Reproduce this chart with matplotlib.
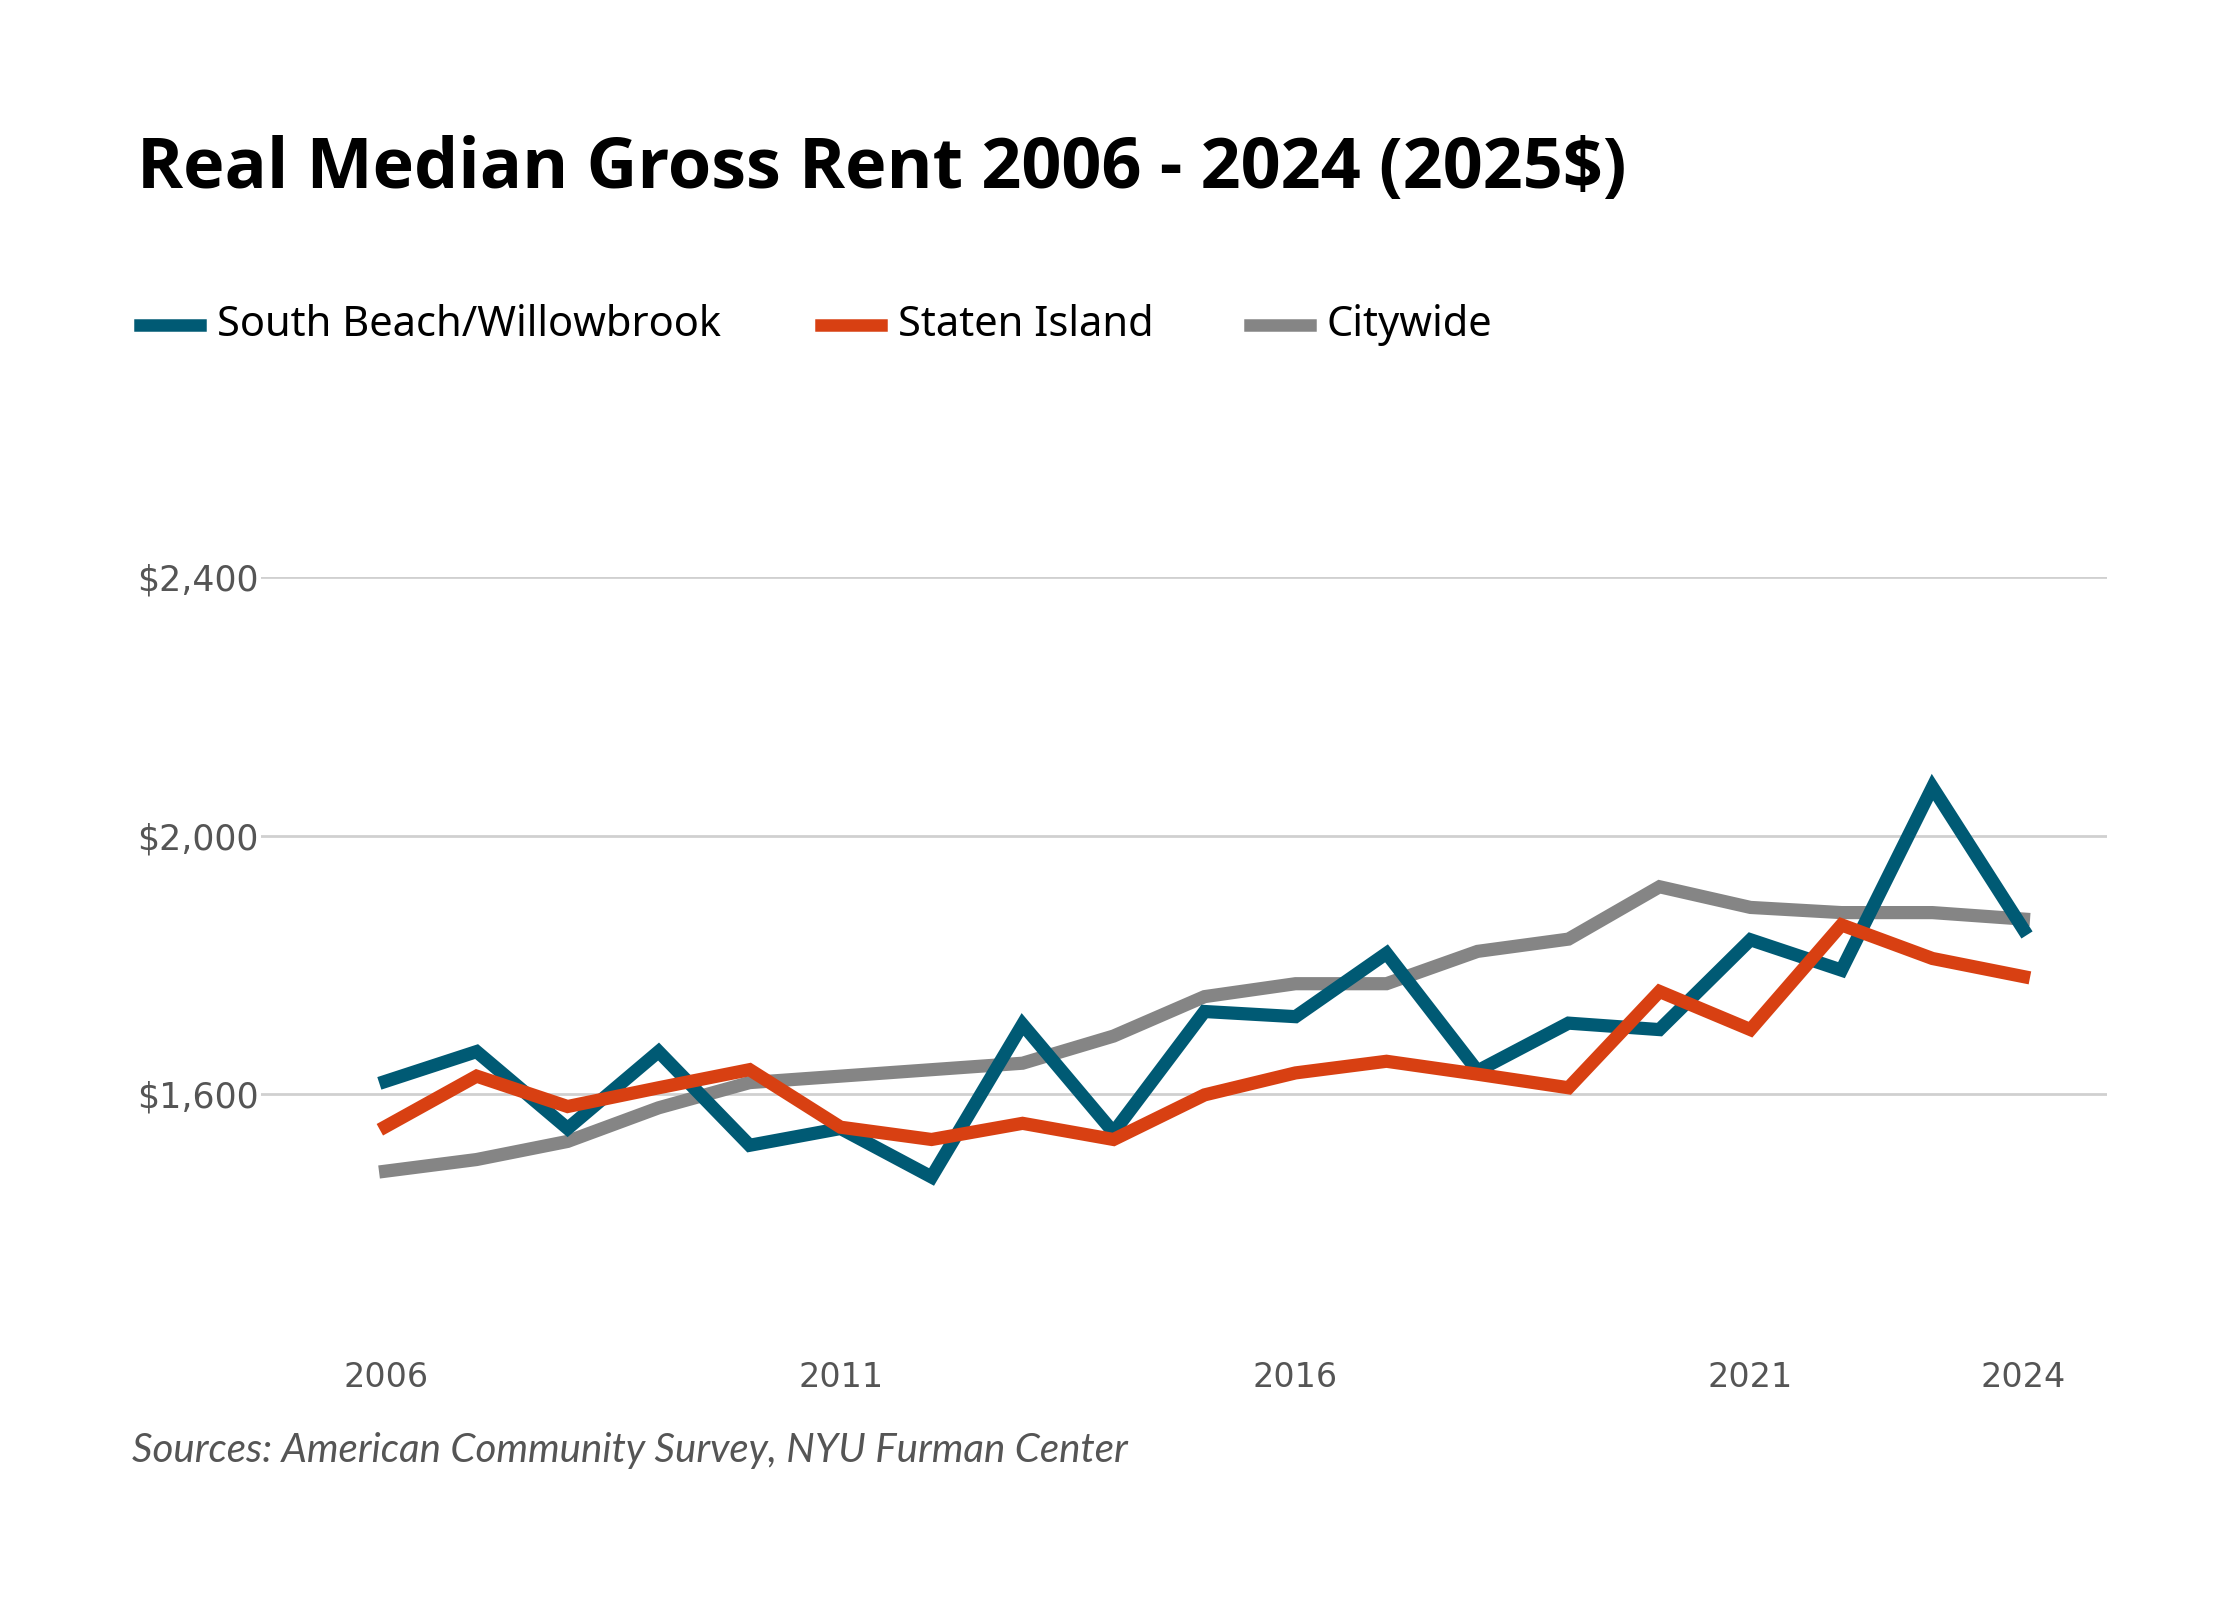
import numpy as np
import matplotlib.pyplot as plt
from matplotlib.lines import Line2D

years = list(range(2006, 2025))
south_beach = [1620, 1666, 1547, 1666, 1521, 1547, 1472, 1708, 1541, 1728, 1720, 1818,
               1636, 1710, 1700, 1839, 1792, 2075, 1855]
staten_island = [1550, 1628, 1581, 1610, 1638, 1549, 1530, 1555, 1530, 1599, 1633, 1651,
                 1631, 1610, 1759, 1700, 1862, 1810, 1782]
citywide = [1481, 1499, 1527, 1579, 1618, 1628, 1638, 1648, 1690, 1751, 1771, 1771,
            1821, 1840, 1921, 1889, 1881, 1881, 1871]
series_names = ['South Beach/Willowbrook', 'Staten Island', 'Citywide']
colors = ['#005a74', '#d84012', '#858585']
xticks = [2006, 2011, 2016, 2021, 2024]
yticks = [1600, 2000, 2400]

fig = plt.figure(figsize=(22.4, 16), dpi=100)
ax = fig.add_axes([0.1167, 0.1545, 0.824, 0.4848])

# gray at the bottom, orange on top
ax.plot(years, citywide, color=colors[2], lw=9.5, solid_joinstyle='miter', zorder=3, clip_on=False)
ax.plot(years, south_beach, color=colors[0], lw=9.5, solid_joinstyle='miter', zorder=4, clip_on=False)
ax.plot(years, staten_island, color=colors[1], lw=9.5, solid_joinstyle='miter', zorder=5, clip_on=False)

ax.set_xlim(2004.635, 2024.92)
ax.set_ylim(1200, 2400)
ax.set_xticks(xticks)
ax.set_xticklabels([str(y) for y in xticks])
ax.set_yticks(yticks)
ax.set_yticklabels(['${:,}'.format(v) for v in yticks])
ax.grid(axis='y', color='#d0d0d0', lw=2)
ax.set_axisbelow(True)
for s in ax.spines.values():
    s.set_visible(False)
ax.tick_params(length=0, labelsize=24, labelcolor='#555555')
ax.tick_params(axis='x', pad=6)
ax.tick_params(axis='y', pad=2, labelsize=25)

fig.text(0.061, 0.894, 'Real Median Gross Rent 2006 - 2024 (2025$)', fontsize=50.5,
         fontweight='bold', family='Open Sans', va='center', ha='left', color='black')

# legend
leg_x = [0.0625, 0.3667, 0.558]
for x0, name, c in zip(leg_x, series_names, colors):
    fig.add_artist(Line2D([x0, x0 + 0.0268], [0.797, 0.797], color=c, lw=9,
                          transform=fig.transFigure))
    fig.text(x0 + 0.0344, 0.797, name, fontsize=30, family='Noto Sans',
             va='center', ha='left', color='black')

fig.text(0.059, 0.0937, 'Sources: American Community Survey, NYU Furman Center', fontsize=29,
         family='Lato', style='italic', color='#555555', va='center', ha='left')

fig.savefig('out.png', dpi=100, facecolor='white')
